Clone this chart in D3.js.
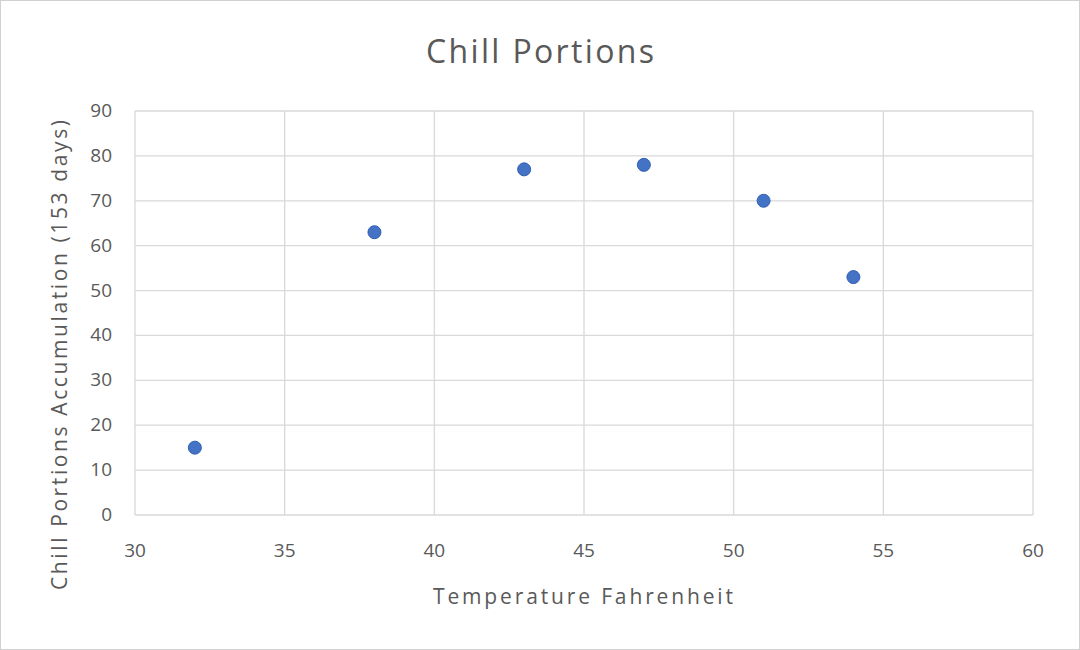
<!DOCTYPE html>
<html><head><meta charset="utf-8">
<script src="https://cdn.jsdelivr.net/npm/d3@7"></script>
<style>body{margin:0;background:#fff}svg{display:block}</style>
</head><body>
<script>
const temps=[32,38,43,47,51,54];
const chill=[15,63,77,78,70,53];
const xTicks=[30,35,40,45,50,55,60];
const yTicks=[0,10,20,30,40,50,60,70,80,90];
const W=1080,H=650,font="'Open Sans', 'Noto Sans', sans-serif",txt="#595959";
const svg=d3.select("body").append("svg").attr("width",W).attr("height",H);
svg.append("rect").attr("x",0.5).attr("y",0.5).attr("width",W-1).attr("height",H-1).attr("fill","#fff").attr("stroke","#d0d0d0");
const x=d3.scaleLinear().domain([30,60]).range([135,1033]);
const y=d3.scaleLinear().domain([0,90]).range([515,111]);
const g=svg.append("g");
g.selectAll(".gx").data(xTicks).join("line").attr("x1",d=>x(d)).attr("x2",d=>x(d)).attr("y1",y(0)).attr("y2",y(90)).attr("stroke","#d9d9d9").attr("stroke-width",1.3);
g.selectAll(".gy").data(yTicks).join("line").attr("y1",d=>y(d)).attr("y2",d=>y(d)).attr("x1",x(30)).attr("x2",x(60)).attr("stroke","#d9d9d9").attr("stroke-width",1.3);
g.selectAll(".tx").data(xTicks).join("text").attr("x",d=>x(d)).attr("y",557).attr("text-anchor","middle").attr("font-family",font).attr("font-size",19).attr("fill",txt).text(d=>d);
g.selectAll(".ty").data(yTicks).join("text").attr("x",112).attr("y",d=>y(d)+6).attr("text-anchor","end").attr("font-family",font).attr("font-size",19).attr("fill",txt).text(d=>d);
svg.selectAll("circle").data(temps).join("circle").attr("cx",d=>x(d)).attr("cy",(d,i)=>y(chill[i])).attr("r",6.5).attr("fill","#4472C4").attr("stroke","#2f5fb3").attr("stroke-width",1);
svg.append("text").attr("x",426).attr("y",63).attr("textLength",228).attr("font-family",font).attr("font-size",32).attr("fill",txt).text("Chill Portions");
svg.append("text").attr("x",433).attr("y",604).attr("textLength",300).attr("font-family",font).attr("font-size",21).attr("fill",txt).text("Temperature  Fahrenheit");
svg.append("text").attr("transform","translate(67,590) rotate(-90)").attr("textLength",470).attr("font-family",font).attr("font-size",21).attr("fill",txt).text("Chill Portions Accumulation (153 days)");
</script>
</body></html>
